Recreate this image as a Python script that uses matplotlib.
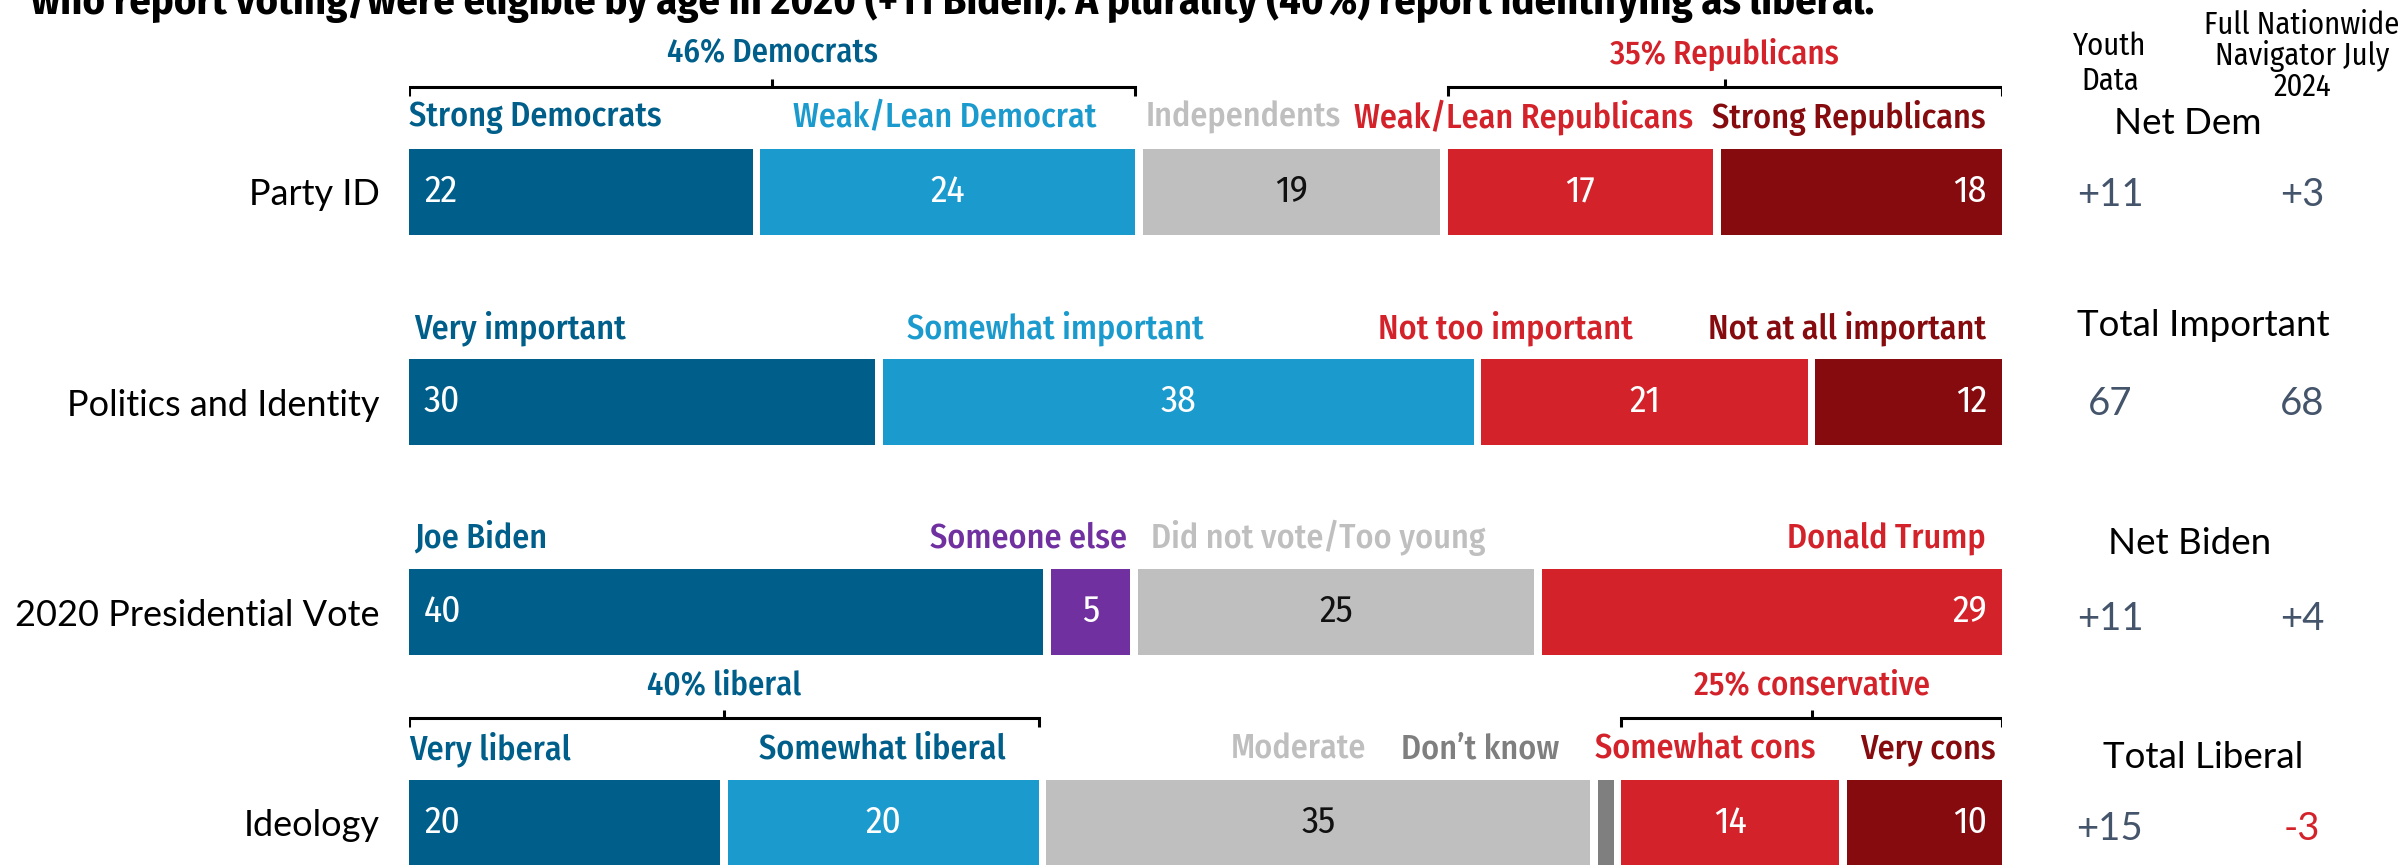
import matplotlib
matplotlib.use("Agg")
import matplotlib.pyplot as plt
from matplotlib import font_manager

W, H = 2402, 865
DPI = 100

names = {f.name for f in font_manager.fontManager.ttflist}
COND = "Fira Sans Condensed" if "Fira Sans Condensed" in names else "DejaVu Sans"
REG = "Lato" if "Lato" in names else "DejaVu Sans"

# ---------------- data ----------------
title_text = ("who report voting/were eligible by age in 2020 (+11 Biden). "
              "A plurality (40%) report identifying as liberal.")
categories = ["Party ID", "Politics and Identity", "2020 Presidential Vote", "Ideology"]

party_labels = ["Strong Democrats", "Weak/Lean Democrat", "Independents",
                "Weak/Lean Republicans", "Strong Republicans"]
party_values = [22, 24, 19, 17, 18]

identity_labels = ["Very important", "Somewhat important", "Not too important",
                   "Not at all important"]
identity_values = [30, 38, 21, 12]

vote_labels = ["Joe Biden", "Someone else", "Did not vote/Too young", "Donald Trump"]
vote_values = [40, 5, 25, 29]

ideology_labels = ["Very liberal", "Somewhat liberal", "Moderate", "Don\u2019t know",
                   "Somewhat cons", "Very cons"]
ideology_values = [20, 20, 35, 1, 14, 10]

summary_headers = ["Net Dem", "Total Important", "Net Biden", "Total Liberal"]
youth_values = ["+11", "67", "+11", "+15"]
nationwide_values = ["+3", "68", "+4", "-3"]
column_headers = ["Youth\nData", "Full Nationwide\nNavigator July\n2024"]

# bracket groups: (text, row index, first segment, last segment)
brackets = [("46% Democrats", 0, 0, 1), ("35% Republicans", 0, 3, 4),
            ("40% liberal", 3, 0, 1), ("25% conservative", 3, 4, 5)]

# ---------------- styles / layout ----------------
DBLUE, LBLUE, GREY, RED, DRED, PURPLE, DGREY = ("#005f8a", "#1b9bcd", "#bfbfbf",
                                                "#d4222a", "#850b0e", "#7030a0", "#7f7f7f")
SLATE = "#44546a"
bracket_colors = [DBLUE, RED, DBLUE, RED]
row_colors = [
    [DBLUE, LBLUE, GREY, RED, DRED],
    [DBLUE, LBLUE, RED, DRED],
    [DBLUE, PURPLE, GREY, RED],
    [DBLUE, LBLUE, GREY, DGREY, RED, DRED],
]
label_colors = [
    [DBLUE, LBLUE, GREY, RED, DRED],
    [DBLUE, LBLUE, RED, DRED],
    [DBLUE, PURPLE, GREY, RED],
    [DBLUE, DBLUE, GREY, DGREY, RED, DRED],
]
# label anchor (fraction of bar width) and alignment
label_pos = [
    [(0.0, "left"), (0.336, "center"), (0.4625, "left"), (0.806, "right"), (0.990, "right")],
    [(0.003, "left"), (0.3125, "left"), (0.768, "right"), (0.990, "right")],
    [(0.003, "left"), (0.451, "right"), (0.466, "left"), (0.990, "right")],
    [(0.0, "left"), (0.297, "center"), (0.601, "right"), (0.722, "right"),
     (0.883, "right"), (0.996, "right")],
]
bar_text_colors = [
    ["white", "white", "#111111", "white", "white"],
    ["white", "white", "white", "white"],
    ["white", "white", "#111111", "white"],
    ["white", "white", "#111111", None, "white", "white"],
]

all_values = [party_values, identity_values, vote_values, ideology_values]
all_labels = [party_labels, identity_labels, vote_labels, ideology_labels]

row_y = [191.5, 402, 612, 823]      # bar centres (pixels from top)
BAR_H = 86
GAP = 0.0048
X0, X1 = 409, 2002

fig = plt.figure(figsize=(W / DPI, H / DPI), dpi=DPI)
ax = fig.add_axes([X0 / W, 0, (X1 - X0) / W, 1])
ax.set_xlim(0, 1)
ax.set_ylim(H, 0)
for s in ax.spines.values():
    s.set_visible(False)
ax.set_xticks([])
ax.set_yticks(row_y)
ax.set_yticklabels(categories, fontfamily=REG, fontsize=26, color="black")
ax.tick_params(axis="y", length=0, pad=21)

seg_spans = []
for r, vals in enumerate(all_values):
    n = len(vals)
    scale = (1 - GAP * (n - 1)) / sum(vals)
    widths = [v * scale for v in vals]
    lefts = []
    acc = 0.0
    for w in widths:
        lefts.append(acc)
        acc += w + GAP
    ax.barh([row_y[r]] * n, widths, left=lefts, height=BAR_H,
            color=row_colors[r], edgecolor="none")
    seg_spans.append([(l, l + w) for l, w in zip(lefts, widths)])
    # value labels
    for i, (l, w, v) in enumerate(zip(lefts, widths, vals)):
        c = bar_text_colors[r][i]
        if c is None:
            continue
        if i == 0:
            x, ha, off = l, "left", 15
        elif i == n - 1:
            x, ha, off = l + w, "right", -15
        else:
            x, ha, off = l + w / 2, "center", 0
        ax.annotate(str(v), (x, row_y[r]), xytext=(off * 0.72, 0),
                    textcoords="offset points", ha=ha, va="center",
                    fontsize=27, color=c, fontfamily=COND, fontweight="normal")
    # segment labels
    ly = row_y[r] - BAR_H / 2 - 31
    for i, lab in enumerate(all_labels[r]):
        fx, ha = label_pos[r][i]
        ax.text(fx, ly, lab, ha=ha, va="center", fontsize=24.5,
                color=label_colors[r][i], fontfamily=COND, fontweight="medium")

# brackets
for k, (text, r, a, b) in enumerate(brackets):
    x_start = seg_spans[r][a][0]
    x_end = seg_spans[r][b][1]
    top = row_y[r] - BAR_H / 2
    ly = top - 62
    ax.plot([x_start, x_start, x_end, x_end], [ly + 9, ly, ly, ly + 9],
            color="black", lw=2.2, solid_capstyle="butt", solid_joinstyle="miter")
    xm = (x_start + x_end) / 2
    ax.plot([xm, xm], [ly, ly - 8], color="black", lw=2.2, solid_capstyle="butt")
    ax.text(xm, ly - 32, text, ha="center", va="center", fontsize=23.5,
            color=bracket_colors[k], fontfamily=COND, fontweight="medium")

# title (clipped at top)
fig.text(31 / W, 1 - 14 / H, title_text, ha="left", va="baseline",
         fontsize=30.5, fontweight="bold", fontfamily=COND, color="black")

# right-hand summary
youth_x, nat_x = 2110, 2302
fig.text(youth_x / W, 1 - 64 / H, column_headers[0], ha="center", va="center",
         fontsize=22, fontfamily=COND, linespacing=1.2)
fig.text(nat_x / W, 1 - 56 / H, column_headers[1], ha="center", va="center",
         fontsize=22, fontfamily=COND, linespacing=1.0)
header_y = [123, 326, 544, 757]
header_x = [2188, 2203, 2190, 2203]
value_y = [195, 404, 619, 829]
for i in range(4):
    fig.text(header_x[i] / W, 1 - header_y[i] / H, summary_headers[i], ha="center",
             va="center", fontsize=26.5, fontfamily=REG, color="black")
    fig.text(youth_x / W, 1 - value_y[i] / H, youth_values[i], ha="center", va="center",
             fontsize=27.5, fontfamily=REG, color=SLATE)
    nv = nationwide_values[i]
    fig.text(nat_x / W, 1 - value_y[i] / H, nv, ha="center", va="center",
             fontsize=27.5, fontfamily=REG, color=RED if nv.startswith("-") else SLATE)

fig.savefig("out.png", dpi=DPI)
